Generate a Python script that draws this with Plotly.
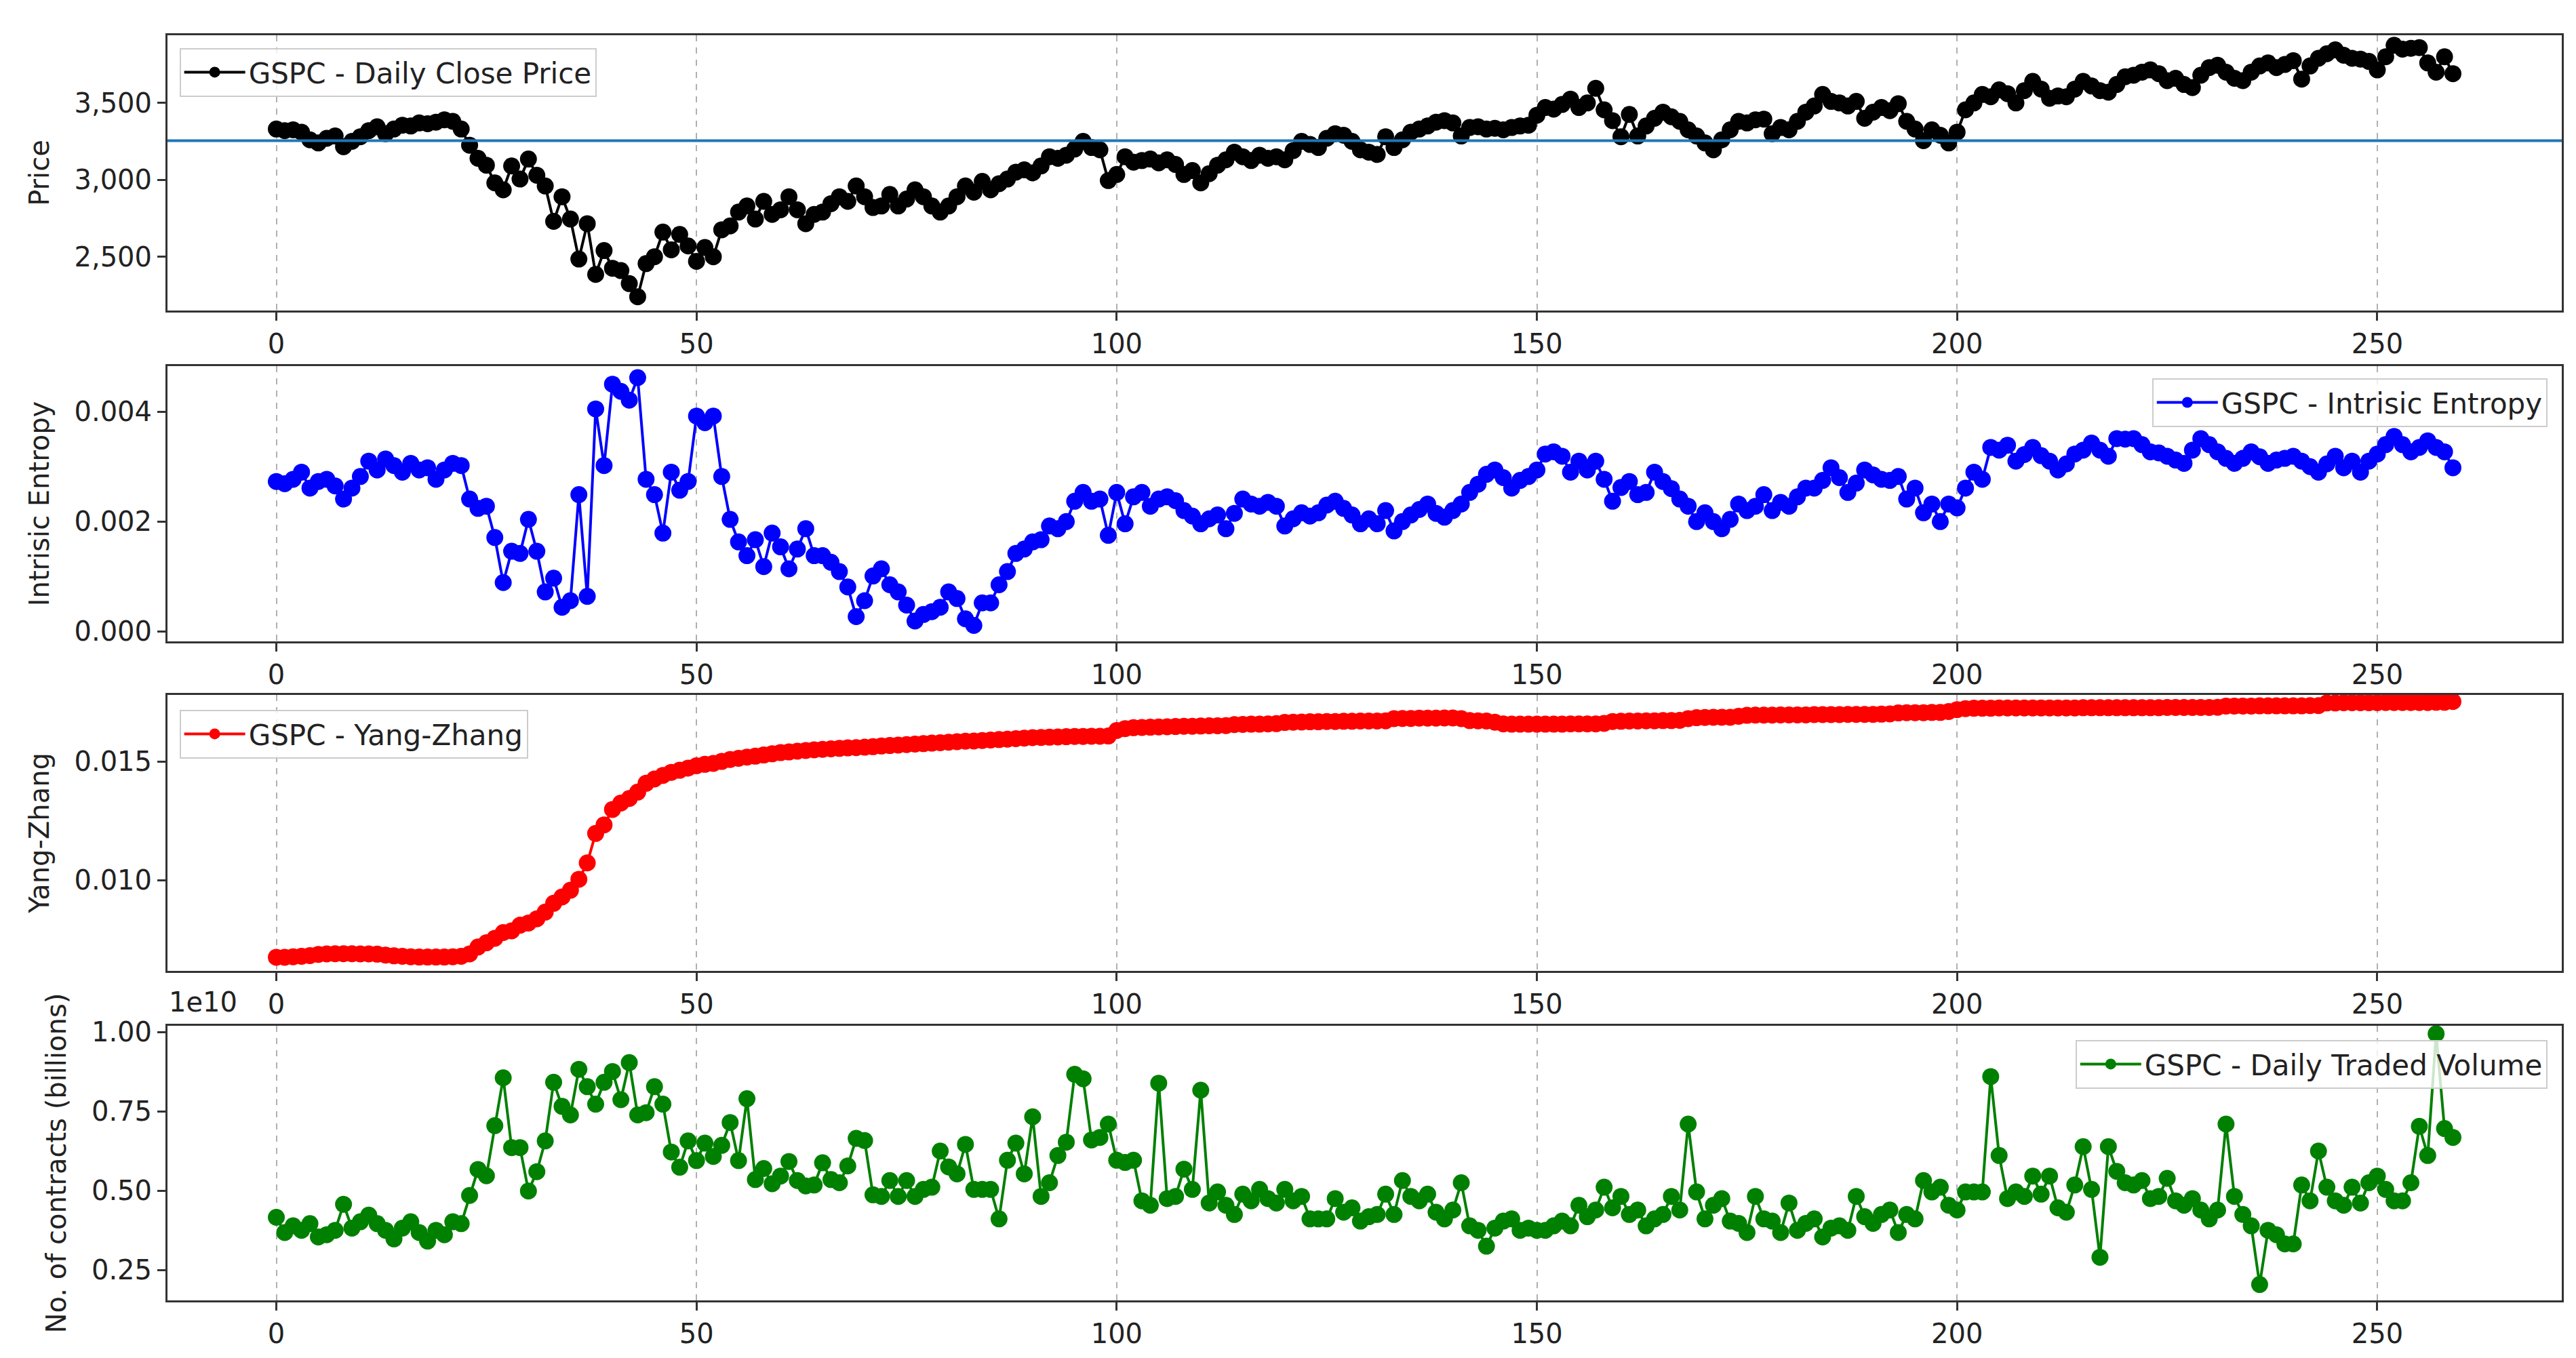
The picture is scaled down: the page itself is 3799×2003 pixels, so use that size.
import numpy as np
import plotly.graph_objects as go
from plotly.subplots import make_subplots

# Trading-day index (0..259)
days = list(range(260))

# GSPC daily close price
close_price = [
    3330, 3320, 3325, 3310, 3260, 3240, 3270, 3285, 3215, 3250,
    3280, 3320, 3345, 3300, 3330, 3355, 3350, 3370, 3365, 3375,
    3390, 3380, 3330, 3225, 3140, 3095, 2980, 2935, 3090, 3005,
    3135, 3030, 2960, 2730, 2890, 2745, 2485, 2715, 2385, 2540,
    2425, 2410, 2325, 2240, 2455, 2500, 2660, 2545, 2645, 2570,
    2470, 2560, 2500, 2675, 2700, 2790, 2830, 2745, 2860, 2775,
    2805, 2890, 2805, 2715, 2775, 2790, 2845, 2890, 2860, 2960,
    2890, 2820, 2830, 2905, 2830, 2875, 2935, 2890, 2830, 2790,
    2830, 2890, 2960, 2920, 2990, 2935, 2975, 3005, 3050, 3065,
    3045, 3090, 3150, 3140, 3160, 3200, 3250, 3210, 3195, 2995,
    3035, 3150, 3115, 3125, 3135, 3110, 3130, 3100, 3035, 3060,
    2980, 3040, 3095, 3130, 3180, 3150, 3125, 3160, 3140, 3150,
    3130, 3190, 3250, 3230, 3210, 3270, 3300, 3290, 3250, 3195,
    3180, 3165, 3280, 3210, 3260, 3310, 3330, 3350, 3375, 3385,
    3370, 3285, 3340, 3345, 3330, 3335, 3325, 3340, 3350, 3355,
    3420, 3470, 3460, 3490, 3525, 3470, 3500, 3595, 3455, 3385,
    3280, 3425, 3285, 3350, 3400, 3440, 3410, 3380, 3325, 3285,
    3240, 3195, 3260, 3325, 3380, 3370, 3390, 3395, 3300, 3340,
    3325, 3380, 3440, 3480, 3555, 3510, 3500, 3480, 3510, 3400,
    3440, 3470, 3450, 3495, 3380, 3330, 3255, 3325, 3290, 3240,
    3310, 3455, 3500, 3555, 3540, 3585, 3560, 3500, 3580, 3640,
    3590, 3530, 3545, 3540, 3590, 3640, 3610, 3580, 3570, 3620,
    3670, 3680, 3700, 3715, 3690, 3645, 3660, 3620, 3600, 3680,
    3730, 3745, 3700, 3660, 3645, 3700, 3740, 3760, 3730, 3750,
    3775, 3655, 3740, 3790, 3820, 3845, 3810, 3790, 3785, 3770,
    3715, 3800, 3875, 3850, 3855, 3860, 3760, 3700, 3800, 3690,
]

# Intrinsic entropy
entropy = [
    .00273, .00269, .00277, .00290, .00261, .00273, .00277, .00265, .00241, .00261,
    .00282, .00310, .00294, .00314, .00302, .00290, .00306, .00294, .00298, .00277,
    .00294, .00306, .00302, .00241, .00224, .00228, .00171, .00089, .00146, .00142,
    .00204, .00146, .00072, .00097, .00044, .00056, .00249, .00064, .00405, .00302,
    .00450, .00437, .00421, .00462, .00277, .00249, .00179, .00290, .00257, .00273,
    .00392, .00380, .00392, .00282, .00204, .00163, .00138, .00167, .00118, .00179,
    .00154, .00114, .00150, .00187, .00138, .00138, .00126, .00109, .00081, .00027,
    .00056, .00101, .00114, .00085, .00072, .00048, .00019, .00031, .00036, .00044,
    .00072, .00060, .00023, .00011, .00052, .00052, .00085, .00109, .00142, .00150,
    .00163, .00167, .00192, .00187, .00200, .00237, .00253, .00237, .00241, .00175,
    .00253, .00196, .00245, .00253, .00228, .00241, .00245, .00238, .00220, .00210,
    .00196, .00205, .00212, .00187, .00215, .00241, .00232, .00228, .00235, .00228,
    .00192, .00205, .00216, .00210, .00216, .00230, .00237, .00224, .00212, .00196,
    .00205, .00196, .00220, .00183, .00200, .00212, .00222, .00232, .00215, .00208,
    .00220, .00232, .00253, .00268, .00286, .00294, .00280, .00261, .00275, .00282,
    .00294, .00323, .00327, .00319, .00290, .00310, .00294, .00310, .00277, .00237,
    .00262, .00273, .00249, .00253, .00290, .00273, .00260, .00241, .00228, .00200,
    .00216, .00200, .00187, .00204, .00232, .00220, .00228, .00249, .00220, .00235,
    .00228, .00245, .00261, .00261, .00275, .00298, .00280, .00253, .00270, .00294,
    .00285, .00277, .00275, .00282, .00241, .00261, .00216, .00232, .00200, .00232,
    .00225, .00261, .00290, .00277, .00335, .00330, .00339, .00310, .00322, .00335,
    .00320, .00310, .00294, .00305, .00323, .00330, .00343, .00330, .00319, .00351,
    .00350, .00351, .00340, .00327, .00325, .00319, .00312, .00306, .00330, .00351,
    .00340, .00327, .00315, .00306, .00315, .00327, .00318, .00306, .00312, .00315,
    .00319, .00310, .00300, .00290, .00305, .00319, .00298, .00310, .00290, .00310,
    .00323, .00340, .00355, .00340, .00327, .00335, .00347, .00335, .00327, .00298,
]

# Yang-Zhang volatility
yang_zhang = [
    .00676, .00676, .00678, .00680, .00683, .00688, .00690, .00691, .00691, .00691,
    .00690, .00690, .00689, .00685, .00682, .00680, .00678, .00677, .00677, .00677,
    .00677, .00678, .00680, .00690, .00719, .00737, .00756, .00780, .00787, .00811,
    .00820, .00838, .00866, .00903, .00930, .00958, .01004, .01073, .01197, .01233,
    .01298, .01325, .01344, .01371, .01408, .01426, .01441, .01454, .01463, .01472,
    .01482, .01488, .01492, .01500, .01508, .01513, .01518, .01522, .01527, .01532,
    .01537, .01540, .01543, .01546, .01549, .01551, .01553, .01555, .01557, .01558,
    .01560, .01562, .01565, .01567, .01569, .01571, .01573, .01575, .01577, .01579,
    .01581, .01583, .01585, .01586, .01588, .01590, .01592, .01594, .01596, .01598,
    .01600, .01601, .01602, .01603, .01604, .01605, .01605, .01606, .01606, .01607,
    .01630, .01638, .01642, .01643, .01644, .01645, .01646, .01647, .01648, .01648,
    .01649, .01650, .01650, .01651, .01655, .01656, .01657, .01657, .01658, .01659,
    .01664, .01665, .01666, .01667, .01667, .01668, .01668, .01669, .01669, .01670,
    .01670, .01670, .01671, .01680, .01681, .01681, .01682, .01682, .01682, .01683,
    .01683, .01680, .01672, .01671, .01670, .01665, .01658, .01657, .01657, .01657,
    .01657, .01657, .01657, .01657, .01658, .01658, .01658, .01658, .01660, .01668,
    .01669, .01670, .01670, .01671, .01671, .01672, .01672, .01673, .01680, .01684,
    .01685, .01686, .01686, .01686, .01690, .01694, .01695, .01695, .01695, .01696,
    .01696, .01696, .01696, .01697, .01697, .01697, .01697, .01698, .01698, .01698,
    .01698, .01699, .01700, .01704, .01705, .01705, .01705, .01706, .01706, .01710,
    .01718, .01722, .01724, .01724, .01724, .01725, .01725, .01725, .01725, .01725,
    .01725, .01725, .01725, .01725, .01725, .01726, .01726, .01726, .01726, .01726,
    .01726, .01726, .01726, .01726, .01726, .01727, .01727, .01727, .01727, .01727,
    .01727, .01728, .01733, .01733, .01733, .01733, .01734, .01734, .01734, .01734,
    .01734, .01734, .01735, .01735, .01746, .01746, .01747, .01747, .01747, .01747,
    .01747, .01748, .01748, .01748, .01748, .01748, .01748, .01749, .01749, .01752,
]

# Daily traded volume, in units of 1e10 contracts
volume_1e10 = [
    .416, .368, .389, .375, .396, .354, .361, .375, .457, .382,
    .402, .423, .396, .375, .348, .382, .402, .368, .341, .375,
    .361, .402, .396, .485, .567, .547, .705, .856, .636, .636,
    .499, .560, .657, .842, .766, .739, .883, .828, .773, .842,
    .876, .787, .904, .739, .746, .828, .773, .622, .574, .657,
    .595, .650, .608, .643, .715, .595, .790, .535, .570, .522,
    .546, .592, .532, .515, .518, .588, .535, .525, .578, .665,
    .658, .487, .482, .532, .482, .532, .482, .504, .511, .625,
    .575, .553, .646, .504, .504, .504, .411, .596, .650, .553,
    .733, .482, .525, .611, .653, .867, .853, .660, .668, .710,
    .596, .589, .596, .468, .454, .839, .475, .482, .568, .504,
    .817, .461, .496, .454, .425, .489, .468, .504, .475, .461,
    .504, .468, .482, .411, .411, .411, .475, .432, .446, .404,
    .418, .425, .489, .425, .532, .482, .468, .489, .432, .411,
    .439, .525, .389, .375, .325, .382, .404, .411, .375, .382,
    .375, .375, .389, .404, .389, .454, .418, .439, .511, .446,
    .482, .425, .439, .389, .411, .425, .482, .439, .710, .496,
    .411, .454, .475, .404, .397, .368, .482, .411, .404, .368,
    .461, .375, .397, .411, .354, .382, .389, .375, .482, .418,
    .397, .425, .439, .368, .425, .411, .532, .496, .511, .454,
    .439, .496, .496, .496, .860, .611, .475, .496, .482, .546,
    .489, .546, .446, .432, .518, .639, .504, .290, .639, .561,
    .525, .518, .532, .475, .482, .539, .468, .454, .475, .439,
    .411, .439, .710, .482, .425, .389, .204, .375, .361, .332,
    .332, .518, .468, .625, .511, .468, .454, .511, .461, .525,
    .546, .504, .468, .468, .525, .703, .611, .995, .696, .668,
]

x_ticks = [0, 50, 100, 150, 200, 250]

# reference line = average close over the window
mean_price = float(np.mean(close_price))

font_family = "DejaVu Sans"
text_color = "#222222"
font_size = 40

fig = make_subplots(rows=4, cols=1)

series = [
    (close_price, "GSPC - Daily Close Price", "black", "legend"),
    (entropy, "GSPC - Intrisic Entropy", "blue", "legend2"),
    (yang_zhang, "GSPC - Yang-Zhang", "red", "legend3"),
    (volume_1e10, "GSPC - Daily Traded Volume", "green", "legend4"),
]

for row, (vals, name, color, leg) in enumerate(series, start=1):
    fig.add_trace(
        go.Scatter(
            x=days,
            y=vals,
            name=name,
            mode="lines+markers",
            line=dict(color=color, width=4),
            marker=dict(color=color, size=25),
            legend=leg,
        ),
        row=row,
        col=1,
    )

fig.add_hline(y=mean_price, line_color="#1f77b4", line_width=4, row=1, col=1)

# Panel placement (paper fractions), matching the four stacked axes boxes
domains = [
    [0.7824, 1.0],
    [0.5209, 0.7385],
    [0.2605, 0.4786],
    [0.0, 0.2170],
]
y_ranges = [
    [2150, 3940],
    [-0.00018, 0.00483],
    [0.00619, 0.0178],
    [0.154, 1.020],
]
y_titles = ["Price", "Intrisic Entropy", "Yang-Zhang", "No. of contracts (billions)"]
y_ticks = [
    [2500, 3000, 3500],
    [0.000, 0.002, 0.004],
    [0.010, 0.015],
    [0.25, 0.50, 0.75, 1.00],
]
y_formats = [",d", ".3f", ".3f", ".2f"]

axis_common = dict(
    showline=True,
    linecolor="#333333",
    linewidth=3,
    mirror=True,
    ticks="outside",
    ticklen=12,
    tickwidth=3,
    tickcolor="#333333",
    tickfont=dict(size=font_size, color=text_color, family=font_family),
    zeroline=False,
)

for i in range(4):
    row = i + 1
    fig.update_xaxes(
        range=[-12.95, 271.95],
        tickvals=x_ticks,
        showgrid=True,
        gridcolor="#b0b0b0",
        gridwidth=2,
        griddash="dash",
        row=row,
        col=1,
        **axis_common,
    )
    fig.update_yaxes(
        domain=domains[i],
        range=y_ranges[i],
        tickvals=y_ticks[i],
        tickformat=y_formats[i],
        showgrid=False,
        title=dict(
            text=y_titles[i],
            standoff=25,
            font=dict(size=font_size, color=text_color, family=font_family),
        ),
        row=row,
        col=1,
        **axis_common,
    )

legend_style = dict(
    bgcolor="rgba(255,255,255,0.8)",
    bordercolor="#cccccc",
    borderwidth=2,
    font=dict(size=42, color=text_color, family=font_family),
    itemwidth=90,
)

fig.update_layout(
    width=3799,
    height=2003,
    plot_bgcolor="white",
    paper_bgcolor="white",
    margin=dict(l=239, r=29, t=44, b=93),
    font=dict(family=font_family, size=font_size, color=text_color),
    legend=dict(x=0.005, y=0.99, xanchor="left", yanchor="top", **legend_style),
    legend2=dict(x=0.994, y=0.729, xanchor="right", yanchor="top", **legend_style),
    legend3=dict(x=0.005, y=0.467, xanchor="left", yanchor="top", **legend_style),
    legend4=dict(x=0.994, y=0.206, xanchor="right", yanchor="top", **legend_style),
    showlegend=True,
)

# matplotlib-style offset text for the volume axis
fig.add_annotation(
    text="1e10",
    xref="paper",
    yref="paper",
    x=0.0,
    y=0.2224,
    xanchor="left",
    yanchor="bottom",
    showarrow=False,
    font=dict(size=font_size, color=text_color, family=font_family),
)

fig.write_html("out.html")
